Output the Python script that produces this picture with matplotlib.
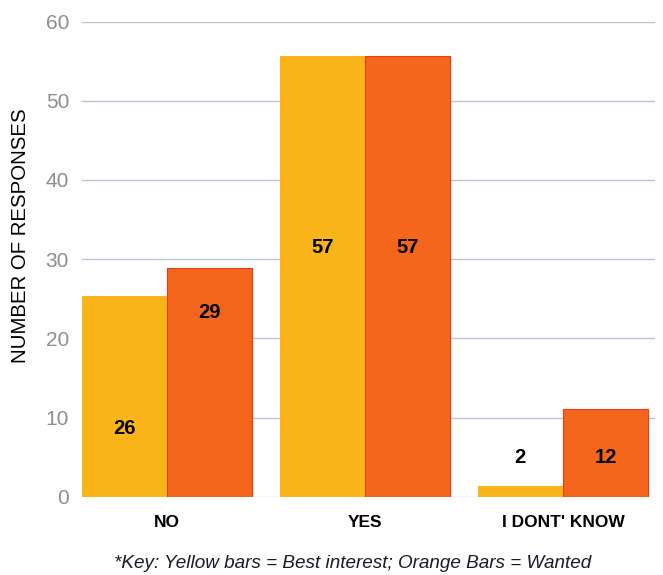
import matplotlib
matplotlib.use("Agg")
import matplotlib.pyplot as plt
import numpy as np

categories = ["NO", "YES", "I DONT' KNOW"]
best_interest = [25.4, 55.6, 1.4]   # bar heights as drawn
wanted = [28.9, 55.6, 11.1]
best_labels = ["26", "57", "2"]
wanted_labels = ["29", "57", "12"]
yticks = [0, 10, 20, 30, 40, 50, 60]

# label vertical positions (layout, data units)
best_label_y = [8.7, 31.5, 5.0]
wanted_label_y = [23.3, 31.5, 5.0]

plt.rcParams['font.family'] = ['Liberation Sans', 'DejaVu Sans']

fig = plt.figure(figsize=(6.63, 5.75), dpi=100)
ax = fig.add_axes([0.123, 0.1357, 0.865, 0.8269])

x = np.arange(len(categories))
w = 0.43
yellow = "#FBB41A"
orange = "#F4661C"
ax.bar(x - w/2, best_interest, w, color=yellow, zorder=2)
ax.bar(x + w/2, wanted, w, color=orange, edgecolor="#EE3A1A", linewidth=0.8, zorder=2)

for i in range(len(categories)):
    ax.text(x[i] - w/2, best_label_y[i], best_labels[i], ha="center", va="center",
            fontsize=14.5, fontweight="bold", color="black", zorder=3)
    ax.text(x[i] + w/2, wanted_label_y[i], wanted_labels[i], ha="center", va="center",
            fontsize=14.5, fontweight="bold", color="black", zorder=3)

ax.set_xlim(-0.43, 2.465)
ax.set_ylim(0, 60)
ax.set_yticks(yticks)
ax.yaxis.grid(True, color="#B9C3D6", linewidth=1.0, zorder=0)
ax.set_axisbelow(True)
for s in ax.spines.values():
    s.set_visible(False)
ax.tick_params(axis="y", length=0, labelsize=15, labelcolor="#8E8E8E", pad=9)
for lbl in ax.get_yticklabels():
    lbl.set_fontweight("light")
ax.tick_params(axis="x", length=0, pad=13)
ax.set_xticks(x)
ax.set_xticklabels(categories, fontsize=12.5, fontweight="bold", color="black")
ax.set_ylabel("NUMBER OF RESPONSES", fontsize=14.7, color="black")
ax.yaxis.set_label_coords(-0.09, 0.55)

fig.text(0.532, 0.02, "*Key: Yellow bars = Best interest; Orange Bars = Wanted",
         ha="center", va="center", fontsize=13.6, style="italic", color="#1a1a2a")

fig.savefig("out.png", dpi=100)
